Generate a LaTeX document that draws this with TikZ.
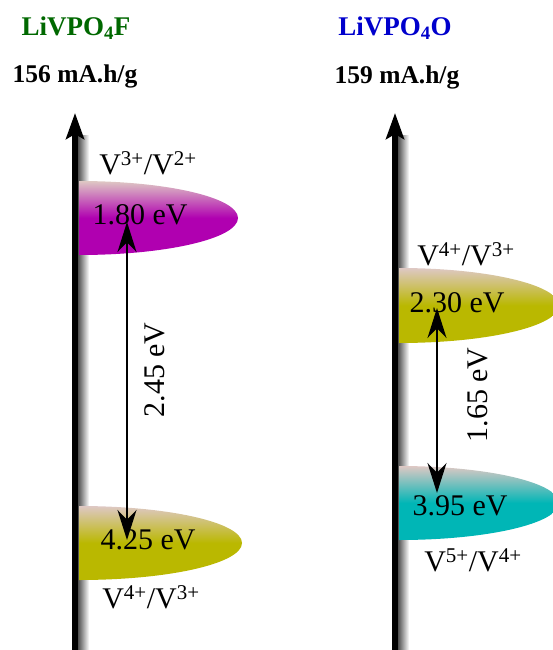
\documentclass[tikz,border=0pt]{standalone}
\usepackage{fontspec}
\setmainfont{Liberation Serif}
\usetikzlibrary{arrows.meta}
\definecolor{green}{RGB}{0,104,0}
\definecolor{blue}{RGB}{0,0,204}
\definecolor{purple}{RGB}{176,0,176}
\definecolor{olive}{RGB}{186,184,0}
\definecolor{teal}{RGB}{0,182,182}
\definecolor{fade}{RGB}{222,200,196}

\begin{document}
\begin{tikzpicture}[
    x=1pt, y=-1pt,
    level/.style={top color=fade, bottom color=#1, middle color=#1},
    redox/.style={font=\fontsize{30}{32}\selectfont, inner sep=0pt},
    energy/.style={font=\fontsize{30}{32}\selectfont, inner sep=0pt},
    title/.style={font=\fontsize{27}{29}\selectfont\bfseries},
    capacity/.style={font=\fontsize{25.5}{28}\selectfont\bfseries},
    axis/.style={line width=6pt, -{Stealth[length=26pt, width=18pt, inset=5pt]}},
    gap/.style={line width=1.4pt, {Stealth[length=30pt, width=19pt]}-{Stealth[length=30pt, width=19pt]}}
]
    \useasboundingbox (0,0) rectangle (553,650);
    \clip (0,0) rectangle (553,650);

    % --- Axes (shadow) ---
    \foreach \x/\n in {75/F, 395/O} {
        \shade[left color=black!75, right color=white] (\x+2,135) rectangle (\x+14,650);
        \coordinate (ax\n-bot) at (\x,650);
        \coordinate (ax\n-top) at (\x,113);
    }

    % --- LiVPO4F ---
    \path[level=purple] (79,255) arc[start angle=90, end angle=-90, x radius=159, y radius=37] -- cycle;
    \path[level=olive] (79,580) arc[start angle=90, end angle=-90, x radius=163, y radius=37] -- cycle;

    % --- LiVPO4O ---
    \path[level=olive] (399,343) arc[start angle=90, end angle=-90, x radius=160, y radius=37.5] -- cycle;
    \path[level=teal] (399,540) arc[start angle=90, end angle=-90, x radius=160, y radius=37] -- cycle;

    \draw[axis] (axF-bot) -- (axF-top);
    \draw[axis] (axO-bot) -- (axO-top);

    % --- Labels ---
    \node[title, text=green] (nameF) at (76,28) {LiVPO\textsubscript{4}F};
    \node[capacity] (capF) at (75,76) {156 mA.h/g};
    \node[title, text=blue] (nameO) at (395,28) {LiVPO\textsubscript{4}O};
    \node[capacity] (capO) at (397,77) {159 mA.h/g};

    \node[redox] (rF1) at (148,163) {V\textsuperscript{3+}/V\textsuperscript{2+}};
    \node[energy] (eF1) at (140,215) {1.80 eV};
    \node[energy] (eF2) at (148,540) {4.25 eV};
    \node[redox] (rF2) at (151,597) {V\textsuperscript{4+}/V\textsuperscript{3+}};

    \node[redox] (rO1) at (466,254) {V\textsuperscript{4+}/V\textsuperscript{3+}};
    \node[energy] (eO1) at (457,303) {2.30 eV};
    \node[energy] (eO2) at (460,506) {3.95 eV};
    \node[redox] (rO2) at (473,560) {V\textsuperscript{5+}/V\textsuperscript{4+}};

    % --- Gaps ---
    \coordinate (gapF-hi) at (127,222);
    \coordinate (gapF-lo) at (127,540);
    \coordinate (gapO-hi) at (437,308);
    \coordinate (gapO-lo) at (437,493);
    \draw[gap] (gapF-hi) -- (gapF-lo);
    \draw[gap] (gapO-hi) -- (gapO-lo);
    \node[energy, rotate=90] (gF) at (155,370) {2.45 eV};
    \node[energy, rotate=90] (gO) at (478,395) {1.65 eV};
\end{tikzpicture}
\end{document}
